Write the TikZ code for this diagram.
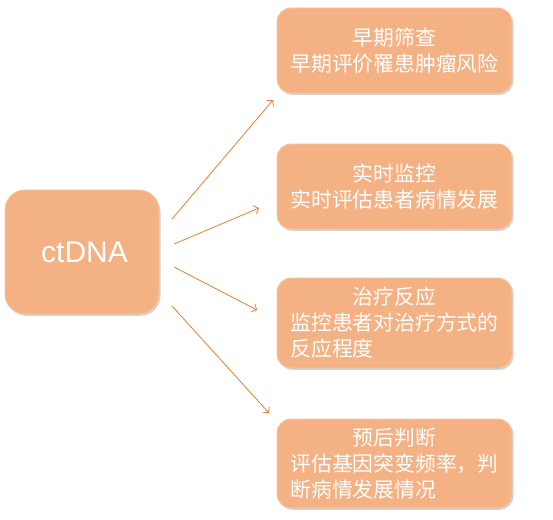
\documentclass[tikz,border=0pt]{standalone}
\usepackage{fontspec}
\setmainfont{Liberation Sans}
\newfontfamily\cjk{Noto Sans CJK SC}
\usetikzlibrary{arrows.meta,shadows}
\definecolor{boxfill}{HTML}{F4B183}
\definecolor{boxline}{HTML}{F7C4A0}
\definecolor{arrowc}{HTML}{ED7D31}
\tikzset{
  card/.style={draw=boxline, line width=0.8pt, fill=boxfill, rounded corners=14pt,
    drop shadow={shadow xshift=1.5pt, shadow yshift=-1.8pt, opacity=0.35},
    minimum width=235pt, text=white, inner sep=0pt, align=left,
    font=\cjk\fontsize{20.8}{26}\selectfont},
  rootbox/.style={draw=boxline, line width=0.8pt, fill=boxfill, rounded corners=20pt,
    drop shadow={shadow xshift=1.5pt, shadow yshift=-1.8pt, opacity=0.35},
    minimum width=154pt, minimum height=124pt, text=white,
    font=\fontsize{30}{34}\selectfont},
  link/.style={draw=arrowc, line width=0.8pt, -{Straight Barb[length=4pt,width=9pt]}}
}
\begin{document}
\begin{tikzpicture}[x=1pt,y=-1pt]
\useasboundingbox (0,0) rectangle (553,519);
\node[rootbox] (c) at (82,252) {\hspace{5pt}ctDNA};
\node[card, minimum height=85pt] (b1) at (394.5,50.5)
  {\makebox[208pt]{早期筛查}\\早期评价罹患肿瘤风险};
\node[card, minimum height=85pt] (b2) at (394.5,186.5)
  {\makebox[208pt]{实时监控}\\实时评估患者病情发展};
\node[card, minimum height=90pt] (b3) at (394.5,323)
  {\makebox[208pt]{治疗反应}\\监控患者对治疗方式的\\反应程度};
\node[card, minimum height=89pt] (b4) at (394.5,463.5)
  {\makebox[208pt]{预后判断}\\评估基因突变频率，判\\断病情发展情况};
\coordinate (s1) at (172,219);
\coordinate (e1) at (273,100);
\coordinate (s2) at (174,244);
\coordinate (e2) at (259,208);
\coordinate (s3) at (174,267);
\coordinate (e3) at (257,310);
\coordinate (s4) at (172,306);
\coordinate (e4) at (269,413);
\draw[link] (s1) -- (e1);
\draw[link] (s2) -- (e2);
\draw[link] (s3) -- (e3);
\draw[link] (s4) -- (e4);
\end{tikzpicture}
\end{document}
